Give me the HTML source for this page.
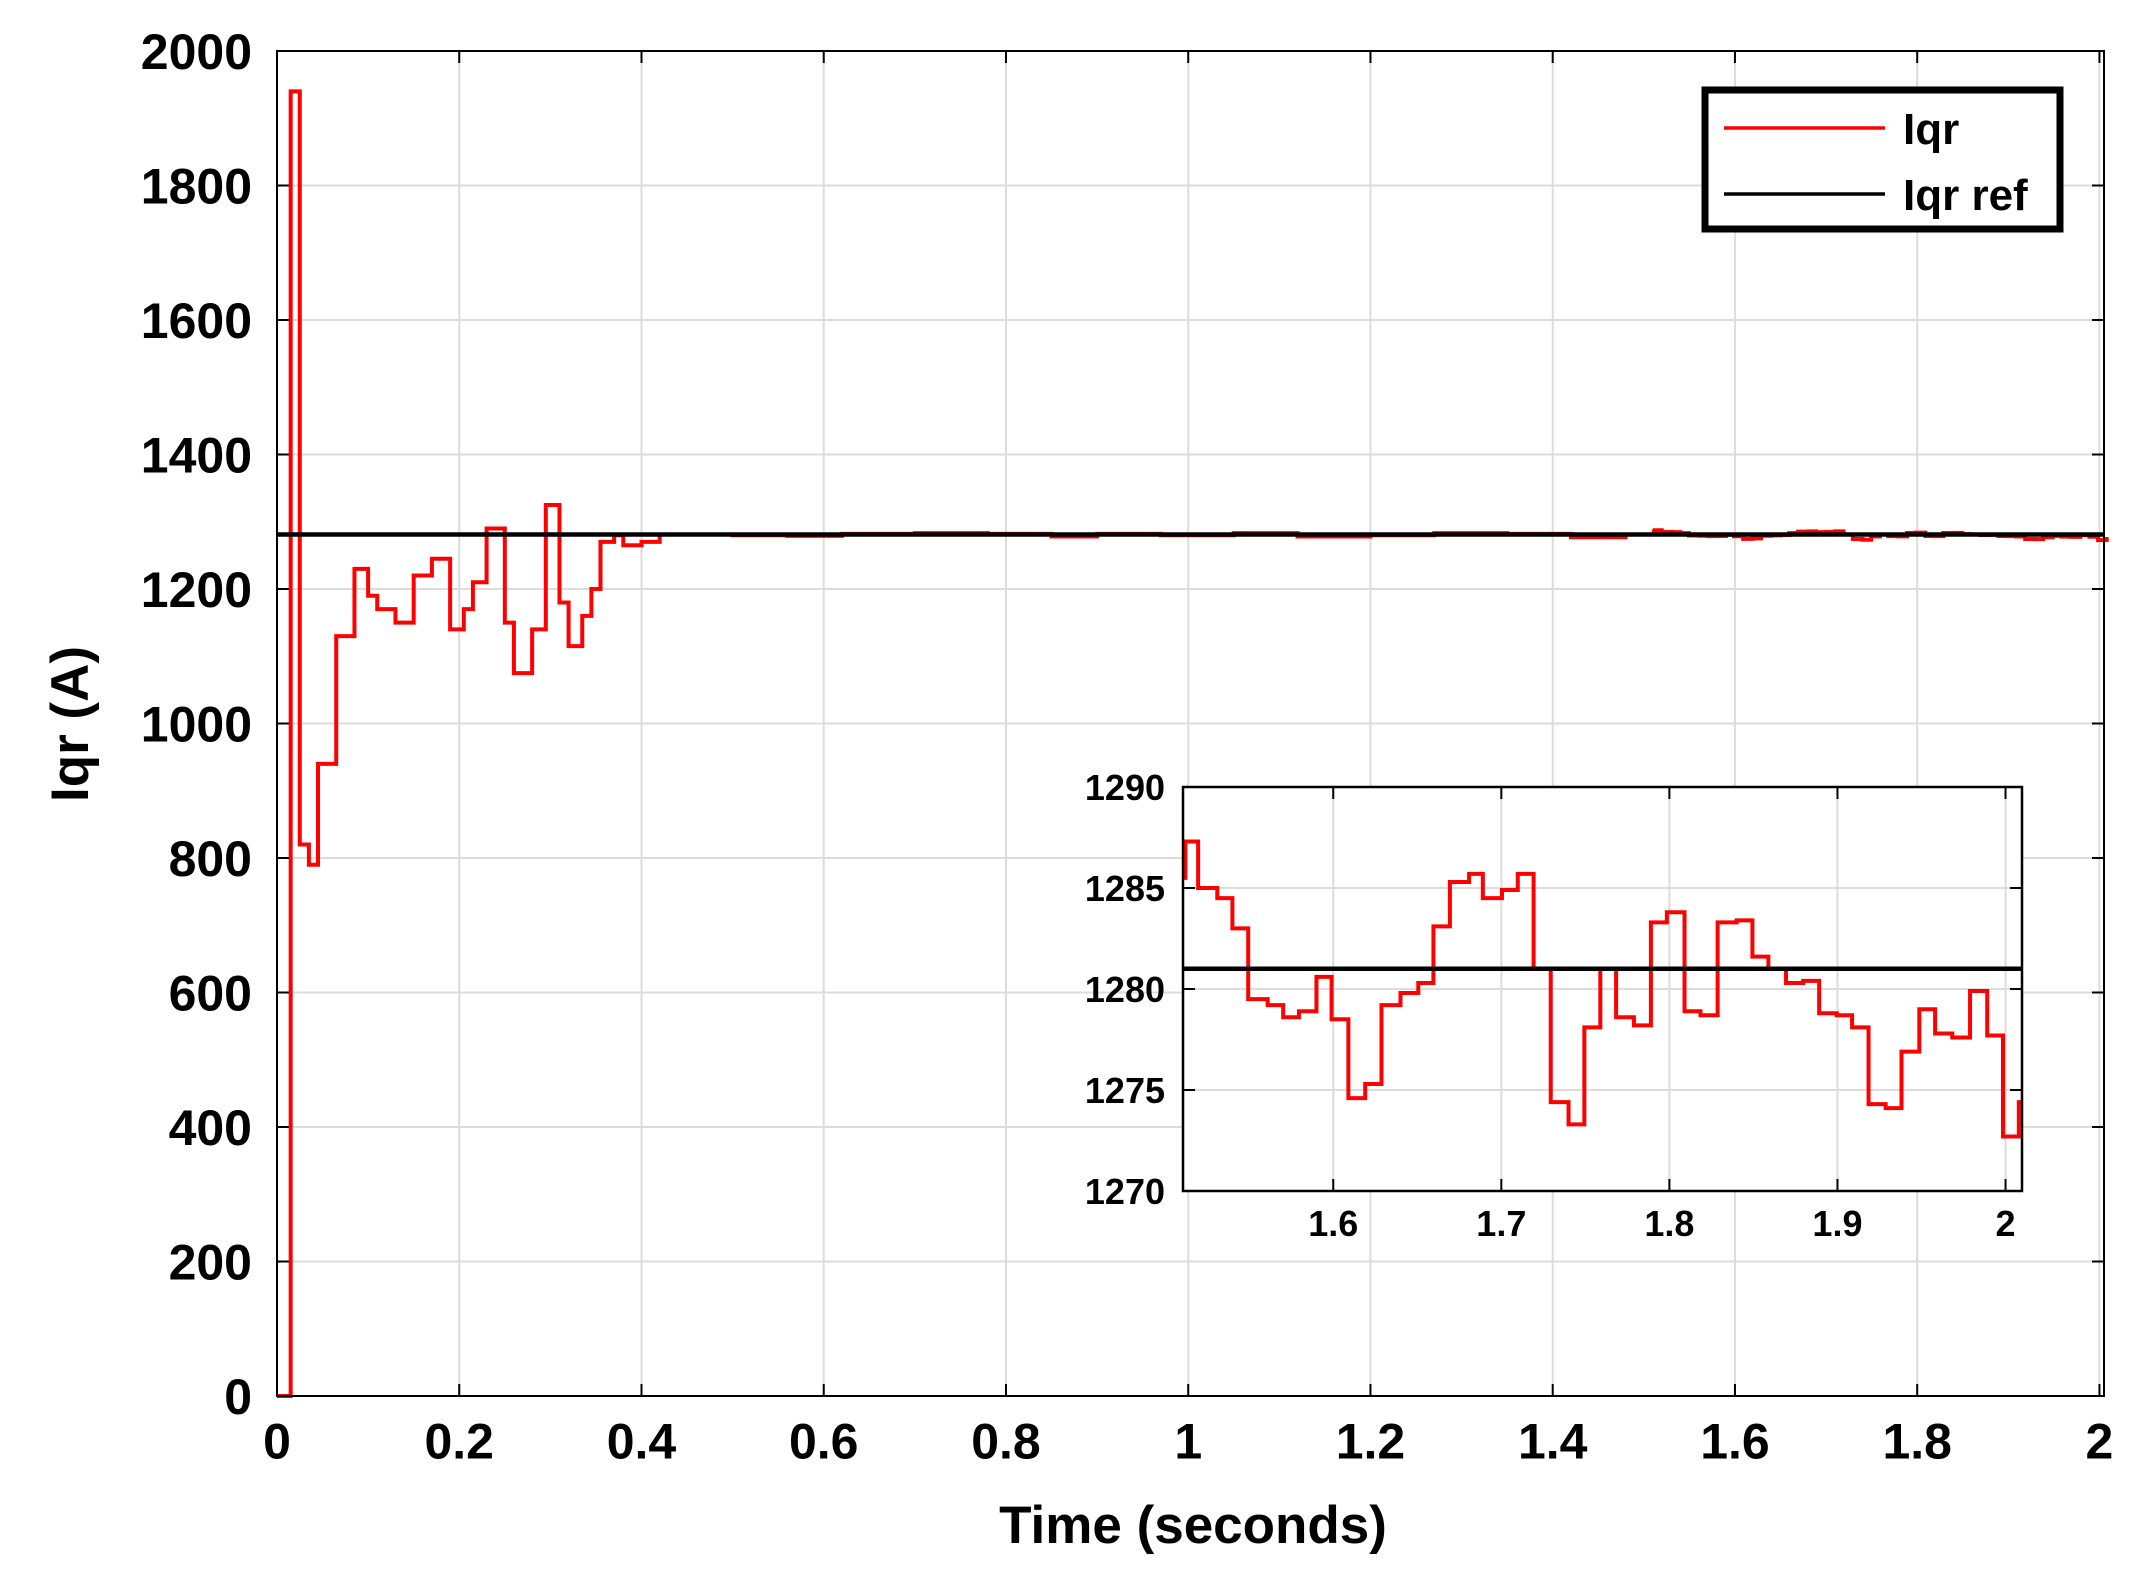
<!DOCTYPE html>
<html><head><meta charset="utf-8"><style>
html,body{margin:0;padding:0;background:#fff;}
svg{display:block;font-family:"Liberation Sans",sans-serif;font-weight:bold;}
</style></head><body>
<svg id="chart" width="2142" height="1579" viewBox="0 0 2142 1579" xmlns="http://www.w3.org/2000/svg">
<rect width="2142" height="1579" fill="#fff"/>
<g id="main"></g>
<g id="inset"></g>
<g id="legend">
<rect x="1705" y="90" width="355" height="139" fill="#fff" stroke="#000" stroke-width="7"/>
<line x1="1724" y1="128" x2="1885" y2="128" stroke="#ff0000" stroke-width="3.5"/>
<text x="1903" y="144" font-size="44">Iqr</text>
<line x1="1724" y1="194" x2="1885" y2="194" stroke="#000" stroke-width="3.5"/>
<text x="1903" y="210" font-size="44">Iqr ref</text>
</g>
<text x="1193" y="1543" font-size="53" text-anchor="middle">Time (seconds)</text>
<text x="0" y="0" font-size="53" text-anchor="middle" transform="translate(88,724) rotate(-90)">Iqr (A)</text>
</svg>
<script>
const mainTimes=[0,0.015,0.025,0.035,0.045,0.065,0.085,0.1,0.11,0.13,0.15,0.17,0.19,0.205,0.215,0.23,0.25,0.26,0.28,0.295,0.31,0.32,0.335,0.345,0.355,0.37,0.38,0.4,0.42,0.5,0.56,0.62,0.7,0.78,0.85,0.9,0.97,1.05,1.12,1.2,1.27,1.35,1.42,1.48];
const mainValues=[0,1940,820,790,940,1130,1230,1190,1170,1150,1220,1245,1140,1170,1210,1290,1150,1075,1140,1325,1180,1115,1160,1200,1270,1280,1265,1270,1281,1280,1279,1282,1283,1282,1278,1282,1280,1283,1278,1280,1283,1282,1277,1281];
const insetTimes=[1.511,1.512,1.5196,1.531,1.540,1.5494,1.561,1.5702,1.5796,1.59,1.599,1.609,1.619,1.6287,1.64,1.6506,1.6596,1.6694,1.6808,1.689,1.7004,1.7098,1.7192,1.7294,1.74,1.7494,1.7589,1.7683,1.7789,1.789,1.7985,1.809,1.8185,1.8287,1.84,1.8494,1.8589,1.8694,1.8796,1.8891,1.8996,1.9087,1.9185,1.9287,1.9381,1.9487,1.9581,1.9683,1.9789,1.9891,1.9985,2.0079];
const insetValues=[1285.5,1287.3,1285,1284.5,1283,1279.5,1279.2,1278.6,1278.9,1280.6,1278.5,1274.6,1275.3,1279.2,1279.8,1280.3,1283.1,1285.3,1285.7,1284.5,1284.9,1285.7,1281,1274.4,1273.3,1278.1,1281,1278.6,1278.2,1283.3,1283.8,1278.9,1278.7,1283.3,1283.4,1281.6,1281,1280.3,1280.4,1278.8,1278.7,1278.1,1274.3,1274.1,1276.9,1279,1277.8,1277.6,1279.9,1277.7,1272.7,1274.4];
const refValue=1281;
const mainXTicks=["0","0.2","0.4","0.6","0.8","1","1.2","1.4","1.6","1.8","2"];
const mainYTicks=["0","200","400","600","800","1000","1200","1400","1600","1800","2000"];
const insetXTicks=["1.6","1.7","1.8","1.9","2"];
const insetYTicks=["1270","1275","1280","1285","1290"];

const NS="http://www.w3.org/2000/svg";
function mk(p,tag,a){const e=document.createElementNS(NS,tag);for(const k in a)e.setAttribute(k,a[k]);p.appendChild(e);return e;}

function drawAxes(g,b,xmin,xmax,ymin,ymax,xt,yt,fs,name){
  const X=v=>b.L+(v-xmin)/(xmax-xmin)*(b.R-b.L);
  const Y=v=>b.B-(v-ymin)/(ymax-ymin)*(b.B-b.T);
  const bg=mk(g,'rect',{x:b.L,y:b.T,width:b.R-b.L,height:b.B-b.T,fill:'#fff'});
  
  
  xt.forEach(s=>{const x=X(+s);
    const gl=mk(g,'line',{x1:x,y1:b.T,x2:x,y2:b.B,stroke:'#dcdcdc','stroke-width':2});
    
    
    mk(g,'line',{x1:x,y1:b.B,x2:x,y2:b.B-12,stroke:'#000','stroke-width':2});
    mk(g,'line',{x1:x,y1:b.T,x2:x,y2:b.T+12,stroke:'#000','stroke-width':2});
    const t=mk(g,'text',{x:x,y:b.B+fs*1.25,'font-size':fs,'text-anchor':'middle'});t.textContent=s;
    
    
  });
  yt.forEach(s=>{const y=Y(+s);
    const gl=mk(g,'line',{x1:b.L,y1:y,x2:b.R,y2:y,stroke:'#dcdcdc','stroke-width':2});
    
    
    mk(g,'line',{x1:b.L,y1:y,x2:b.L+12,y2:y,stroke:'#000','stroke-width':2});
    mk(g,'line',{x1:b.R,y1:y,x2:b.R-12,y2:y,stroke:'#000','stroke-width':2});
    const t=mk(g,'text',{x:b.L-fs*0.5,y:y+fs*0.36,'font-size':fs,'text-anchor':'end'});t.textContent=s;
    
    
  });
  return {X,Y};
}
function stepPath(ts,vs,tEnd,X,Y){
  let d='M'+X(ts[0])+','+Y(vs[0]);
  for(let i=1;i<ts.length;i++){d+=' L'+X(ts[i])+','+Y(vs[i-1])+' L'+X(ts[i])+','+Y(vs[i]);}
  d+=' L'+X(tEnd)+','+Y(vs[vs.length-1]);
  return d;
}
const gm=document.getElementById('main');
const mb={L:277,R:2104,T:51,B:1396};
const ma=drawAxes(gm,mb,0,2.005,0,2000,mainXTicks,mainYTicks,50,'main');
const mt=mainTimes.concat(insetTimes), mv=mainValues.concat(insetValues);
const mp=mk(gm,'path',{d:stepPath(mt,mv,2.005,ma.X,ma.Y),fill:'none',stroke:'#ff0000','stroke-width':4});


const mr=mk(gm,'line',{x1:mb.L,y1:ma.Y(refValue),x2:mb.R,y2:ma.Y(refValue),stroke:'#000','stroke-width':4.5});


const mf=mk(gm,'rect',{x:mb.L,y:mb.T,width:mb.R-mb.L,height:mb.B-mb.T,fill:'none',stroke:'#000','stroke-width':2});


const gi=document.getElementById('inset');
const ib={L:1183,R:2022,T:787,B:1191};
const ia=drawAxes(gi,ib,1.5106,2.0098,1270,1290,insetXTicks,insetYTicks,36,'inset');
const ip=mk(gi,'path',{d:stepPath(insetTimes,insetValues,2.0098,ia.X,ia.Y),fill:'none',stroke:'#ff0000','stroke-width':4});


const ir=mk(gi,'line',{x1:ib.L,y1:ia.Y(refValue),x2:ib.R,y2:ia.Y(refValue),stroke:'#000','stroke-width':4.5});


const iff=mk(gi,'rect',{x:ib.L,y:ib.T,width:ib.R-ib.L,height:ib.B-ib.T,fill:'none',stroke:'#000','stroke-width':2.5});


</script>
</body></html>
